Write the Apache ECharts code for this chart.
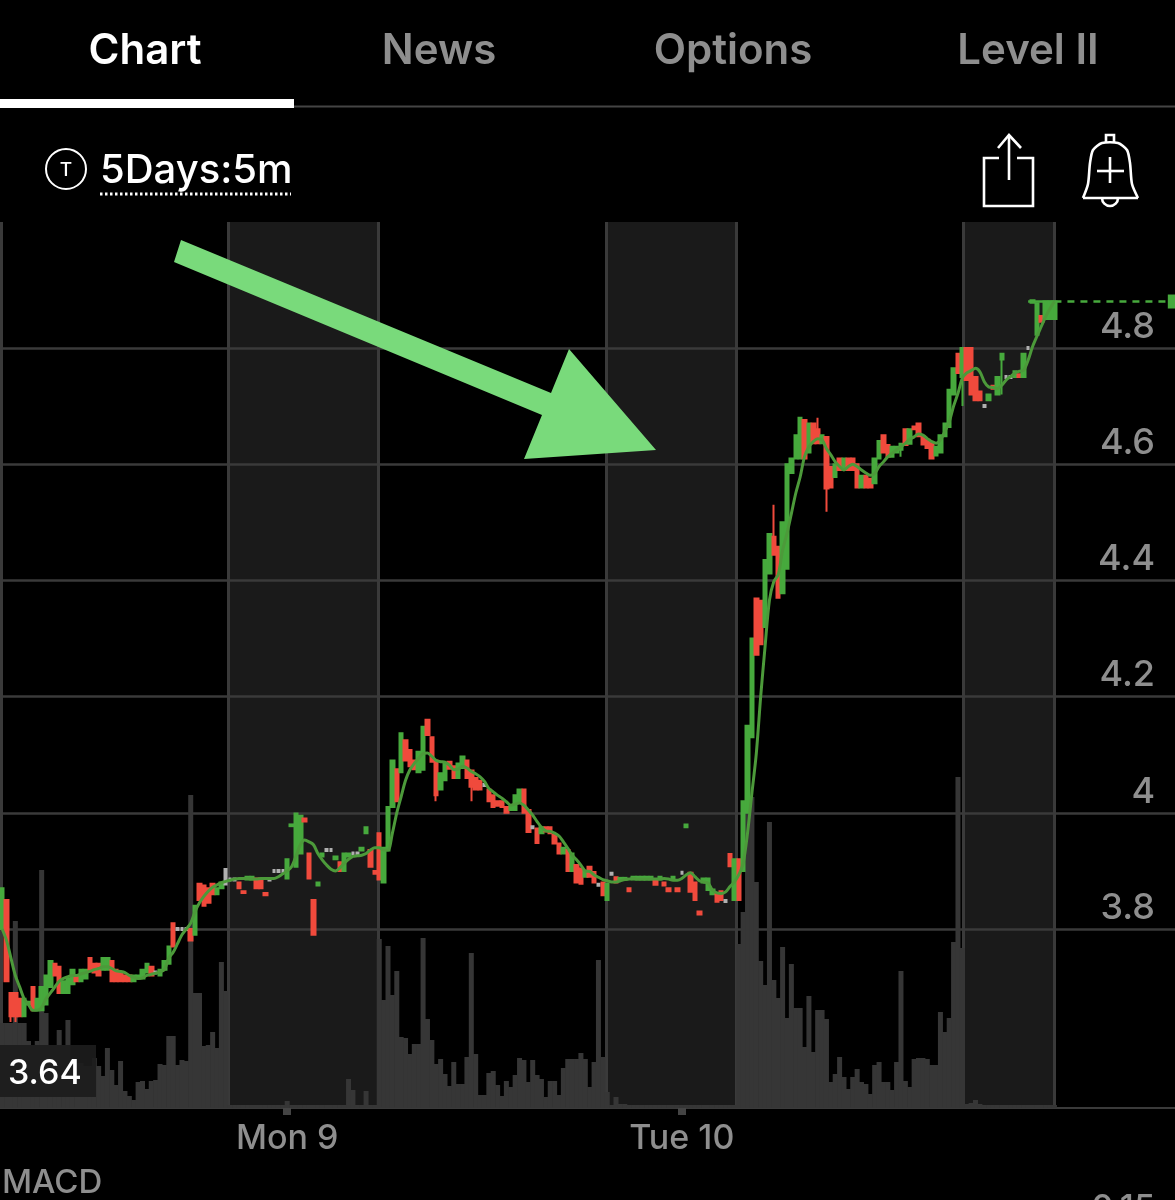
<!DOCTYPE html>
<html>
<head>
<meta charset="utf-8">
<style>
  html,body{margin:0;padding:0;background:#000;}
  #chart{width:1175px;height:1200px;}
</style>
<script src="https://cdn.jsdelivr.net/npm/echarts@6/dist/echarts.min.js"></script>
</head>
<body>
<div id="chart"></div>
<script>
// one entry per 5m bar slot (rows of 10)
var opens = [
  3.80,3.85,3.69,3.69,3.68,3.65,3.67,3.70,3.66,3.66,
  3.67,3.70,3.74,3.735,3.69,3.69,3.705,3.72,3.71,3.715,
  3.75,3.74,3.74,3.73,3.73,3.745,3.73,3.725,3.72,3.72,
  3.71,3.715,3.715,3.725,3.735,3.725,3.72,3.73,3.74,3.81,
  3.80,3.80,3.80,3.80,3.79,3.878,3.875,3.87,3.878,3.86,
  3.87,3.885,3.885,3.885,3.88,3.865,3.885,3.885,3.887,3.887,
  3.862,3.885,3.90,3.90,3.90,3.887,3.977,3.907,3.93,3.99,
  3.93,3.85,3.875,3.925,3.936,3.936,3.92,3.915,3.90,3.925,
  3.93,3.93,3.935,3.965,3.936,3.90,3.965,3.88,3.935,4.01,
  4.075,4.07,4.125,4.108,4.09,4.07,4.074,4.16,4.13,4.09,
  4.04,4.056,4.088,4.08,4.06,4.077,4.09,4.073,4.06,4.055,
  4.048,4.04,4.03,4.02,4.02,4.01,4.005,4.005,4.02,4.04,
  4.005,3.975,3.973,3.965,3.975,3.975,3.962,3.947,3.93,3.936,
  3.90,3.91,3.904,3.89,3.907,3.898,3.876,3.88,3.85,3.895,
  3.889,3.885,3.885,3.87,3.885,3.885,3.885,3.885,3.885,3.885,
  3.885,3.88,3.87,3.885,3.87,3.897,3.975,3.897,3.88,3.83,
  3.88,3.867,3.86,3.86,3.865,3.848,3.929,3.85,3.92,3.90,
  4.00,4.13,4.369,4.365,4.32,4.412,4.475,4.458,4.378,4.42,
  4.585,4.61,4.61,4.676,4.62,4.67,4.66,4.636,4.647,4.595,
  4.578,4.61,4.59,4.61,4.61,4.60,4.56,4.58,4.575,4.567,
  4.61,4.65,4.633,4.613,4.62,4.625,4.66,4.635,4.665,4.67,
  4.648,4.642,4.636,4.615,4.62,4.648,4.664,4.72,4.79,4.75,
  4.80,4.80,4.75,4.725,4.70,4.71,4.735,4.72,4.78,4.75,
  4.75,4.75,4.755,4.75,4.80,4.878,4.823,4.855,4.85,4.85,
  4.85
];
var closes = [
  3.87,3.71,3.65,3.65,3.65,3.68,3.675,3.66,3.68,3.70,
  3.72,3.745,3.72,3.69,3.71,3.715,3.73,3.71,3.73,3.73,
  3.73,3.725,3.72,3.75,3.75,3.71,3.71,3.71,3.71,3.71,
  3.72,3.72,3.73,3.74,3.72,3.725,3.73,3.745,3.77,3.77,
  3.80,3.80,3.80,3.78,3.84,3.85,3.84,3.845,3.86,3.87,
  3.88,3.885,3.885,3.885,3.87,3.862,3.89,3.89,3.87,3.87,
  3.858,3.885,3.90,3.90,3.90,3.92,3.98,3.999,3.995,3.985,
  3.887,3.79,3.88,3.93,3.936,3.936,3.925,3.90,3.93,3.93,
  3.93,3.93,3.94,3.975,3.907,3.895,3.885,3.94,4.01,4.09,
  4.02,4.137,4.09,4.08,4.075,4.105,4.148,4.134,4.088,4.03,
  4.068,4.085,4.076,4.06,4.085,4.097,4.06,4.045,4.04,4.04,
  4.048,4.02,4.01,4.012,4.01,4.00,4.013,4.03,4.04,4.00,
  3.967,3.975,3.948,3.975,3.968,3.965,3.947,3.93,3.94,3.90,
  3.93,3.88,3.878,3.90,3.89,3.88,3.876,3.858,3.878,3.895,
  3.88,3.888,3.888,3.865,3.89,3.89,3.89,3.89,3.89,3.876,
  3.89,3.875,3.865,3.89,3.865,3.897,3.98,3.864,3.85,3.825,
  3.887,3.887,3.868,3.847,3.85,3.848,3.908,3.92,3.85,4.02,
  4.15,4.30,4.272,4.29,4.435,4.48,4.444,4.37,4.50,4.60,
  4.61,4.65,4.68,4.61,4.67,4.636,4.636,4.65,4.558,4.56,
  4.60,4.59,4.61,4.59,4.59,4.56,4.58,4.56,4.56,4.61,
  4.64,4.62,4.613,4.63,4.63,4.635,4.633,4.66,4.66,4.648,
  4.634,4.628,4.61,4.63,4.65,4.67,4.728,4.765,4.757,4.80,
  4.745,4.72,4.71,4.71,4.70,4.72,4.73,4.75,4.79,4.75,
  4.75,4.76,4.75,4.79,4.80,4.882,4.877,4.845,4.88,4.88,
  4.88
];
// only the bars with a wick that sticks out of the body
var wickHighs = {51:3.905,176:4.53,186:4.68};
var wickLows = {2:3.64,3:3.64,51:3.875,99:4.02,107:4.02,188:4.518,205:4.613,219:4.70,228:4.72};
var maLine = [
  3.80,3.78,3.75,3.72,3.70,3.68,3.67,3.66,3.66,3.665,
  3.68,3.69,3.70,3.71,3.715,3.718,3.72,3.72,3.723,3.725,
  3.727,3.73,3.732,3.735,3.735,3.732,3.728,3.727,3.725,3.72,
  3.717,3.715,3.716,3.72,3.722,3.724,3.726,3.73,3.75,3.76,
  3.775,3.79,3.80,3.81,3.83,3.845,3.856,3.865,3.872,3.876,
  3.88,3.882,3.884,3.886,3.887,3.887,3.887,3.886,3.886,3.887,
  3.887,3.887,3.887,3.89,3.895,3.90,3.907,3.925,3.945,3.953,
  3.95,3.945,3.93,3.919,3.91,3.903,3.90,3.905,3.913,3.92,
  3.925,3.926,3.927,3.93,3.936,3.94,3.94,3.936,3.936,3.965,
  4.00,4.028,4.056,4.074,4.085,4.094,4.102,4.103,4.097,4.09,
  4.088,4.087,4.082,4.074,4.075,4.08,4.077,4.071,4.067,4.062,
  4.054,4.042,4.036,4.03,4.025,4.019,4.013,4.015,4.017,4.013,
  4.005,3.996,3.985,3.975,3.969,3.968,3.965,3.96,3.95,3.939,
  3.927,3.919,3.91,3.90,3.899,3.893,3.889,3.885,3.883,3.881,
  3.881,3.883,3.885,3.886,3.887,3.886,3.886,3.886,3.886,3.886,
  3.886,3.887,3.886,3.884,3.884,3.887,3.893,3.897,3.89,3.883,
  3.881,3.879,3.867,3.862,3.861,3.864,3.873,3.881,3.893,3.913,
  3.965,4.034,4.102,4.20,4.286,4.366,4.398,4.41,4.452,4.481,
  4.515,4.55,4.578,4.613,4.63,4.639,4.644,4.642,4.627,4.616,
  4.604,4.596,4.59,4.596,4.60,4.596,4.59,4.585,4.581,4.584,
  4.596,4.604,4.613,4.619,4.625,4.63,4.636,4.643,4.647,4.652,
  4.65,4.644,4.639,4.636,4.642,4.656,4.673,4.70,4.722,4.748,
  4.757,4.761,4.765,4.759,4.742,4.733,4.732,4.73,4.736,4.745,
  4.751,4.757,4.76,4.762,4.779,4.802,4.82,4.837,4.854,4.868,
  4.88
];
var volumes = [
  85,85,85,187,85,85,67,63,67,238,
  95,63,63,78,63,88,45,45,45,42,
  42,50,42,32,60,38,23,47,17,12,
  8,26,27,19,27,28,44,43,72,72,
  43,48,47,313,115,115,62,63,76,60,
  146,117,3,3,3,3,3,3,3,3,
  3,3,3,3,3,7,3,3,3,3,
  3,3,3,3,3,3,3,3,3,29,
  18,3,3,17,3,3,169,108,162,113,
  137,71,70,54,64,64,170,89,68,44,
  49,34,22,46,24,24,51,155,54,13,
  13,35,37,23,12,27,21,33,50,48,
  26,48,33,29,11,27,27,13,40,49,
  49,49,55,49,21,46,148,51,16,3,
  11,4,4,3,3,3,3,3,3,3,
  3,3,3,3,3,3,3,3,3,3,
  3,3,3,3,3,3,3,3,164,196,
  311,311,226,147,123,286,128,110,161,90,
  144,100,100,61,112,56,98,98,89,26,
  34,51,31,19,31,39,26,24,14,43,
  46,26,26,18,46,137,27,21,49,50,
  50,49,43,43,96,76,90,166,331,160,
  4,5,8,4,3,3,3,3,3,3,
  3,3,3,3,3,3,3,3,3,3,
  3
];
var slotCount = 268;
var dayLabels = {65:'Mon 9',155:'Tue 10'};
var sessionBands = [[52,86.3],[138.2,167.95],[219.7,240.4]];
var sessionEdges = [0.25,52,86.3,138.2,167.95,219.7,240.4];
var lastPrice = 4.88;
var priceTicks = {min:3.6,max:5,interval:0.2};

var gray = '#8e8e8e';
var upColor = '#47a93d';
var downColor = '#f04a3c';
var lineColor = '#3a3a3a';
var font = 'Inter';

var categories = [];
for(var i=0;i<slotCount;i++){
  categories.push(dayLabels[i]||'');
}
var candles = opens.map(function(o,i){
  var c = closes[i];
  var low = wickLows[i]!==undefined ? wickLows[i] : Math.min(o,c);
  var high = wickHighs[i]!==undefined ? wickHighs[i] : Math.max(o,c);
  var item = {value:[o,c,low,high]};
  // flat bars are drawn as a thick gray dash
  if(o===c){
    item.itemStyle = {borderWidth:4,borderColorDoji:'#b0b0b0'};
  }
  return item;
});
var hasLabel = function(index,value){
  return value!=='' && value!==undefined;
};
var tabText = function(text,x,fill){
  return {type:'text',x:x,y:51,z:20,style:{text:text,fill:fill,font:'600 42px '+font,align:'center',verticalAlign:'middle'}};
};
var whiteLine = {stroke:'#fff',lineWidth:2.6,fill:null};

var mapChart = echarts.init(document.getElementById('chart'));
mapChart.setOption({
  animation:false,
  backgroundColor:'#000',
  grid:[
    {left:0,right:0,top:222,height:886}, //volume and sessions
    {left:0,right:0,top:231.8,height:813.4} //price
  ],
  xAxis:[
    {
      type:'category',gridIndex:0,data:categories,boundaryGap:true,
      axisLine:{show:true,lineStyle:{color:lineColor,width:2}},
      axisTick:{show:true,alignWithLabel:true,interval:hasLabel,length:7,lineStyle:{color:'#444',width:8}},
      axisLabel:{show:true,interval:hasLabel,color:gray,fontFamily:font,fontSize:34,fontWeight:500,margin:14},
      splitLine:{show:false}
    },
    {type:'category',gridIndex:1,data:categories,boundaryGap:true,show:false},
    {type:'value',gridIndex:0,min:0,max:slotCount,show:false,splitLine:{show:false}}
  ],
  yAxis:[
    {type:'value',gridIndex:0,min:0,max:886,show:false,splitLine:{show:false}},
    {
      type:'value',gridIndex:1,position:'right',z:2,
      min:priceTicks.min,max:priceTicks.max,interval:priceTicks.interval,
      axisLine:{show:false},axisTick:{show:false},
      splitLine:{show:true,showMinLine:false,showMaxLine:false,lineStyle:{color:lineColor,width:2.5}},
      axisLabel:{
        show:true,inside:true,margin:20,color:gray,fontFamily:font,fontSize:36,fontWeight:500,
        verticalAlign:'bottom',padding:[0,0,3,0],showMinLabel:false,showMaxLabel:false
      }
    }
  ],
  series:[
    {
      name:'sessions',type:'line',xAxisIndex:2,yAxisIndex:0,data:[[0,0]],symbol:'none',silent:true,z:1,
      markArea:{
        silent:true,z:1,
        itemStyle:{color:'#1a1a1a'},
        data:sessionBands.map(function(b){return [{xAxis:b[0]},{xAxis:b[1]}];})
      },
      markLine:{
        silent:true,z:2,symbol:'none',label:{show:false},
        lineStyle:{color:lineColor,width:3,type:'solid'},
        data:sessionEdges.map(function(x){return {xAxis:x};})
      }
    },
    {
      name:'volume',type:'bar',xAxisIndex:0,yAxisIndex:0,data:volumes,z:2,
      barWidth:5,itemStyle:{color:'#363636'},silent:true
    },
    {
      name:'price',type:'candlestick',xAxisIndex:1,yAxisIndex:1,data:candles,z:5,
      barWidth:4,silent:true,
      itemStyle:{color:upColor,color0:downColor,borderColor:upColor,borderColor0:downColor,borderWidth:2},
      markLine:{
        silent:true,z:5,symbol:['none','rect'],symbolSize:[14,10],label:{show:false},
        data:[
          [{coord:[234,lastPrice],symbol:'none',lineStyle:{color:upColor,width:2.5,type:'solid'}},{coord:[240,lastPrice],symbol:'none'}],
          [{coord:[240,lastPrice],lineStyle:{color:upColor,width:2.5,type:[7,6]}},{coord:[267,lastPrice]}]
        ]
      }
    },
    {
      name:'ma',type:'line',xAxisIndex:1,yAxisIndex:1,data:maLine,z:6,silent:true,
      symbol:'none',smooth:0.3,lineStyle:{color:'#4c9a3a',width:3}
    }
  ],
  graphic:{elements:[
    // header tabs
    tabText('Chart',145,'#fff'),
    tabText('News',439,gray),
    tabText('Options',733,gray),
    tabText('Level II',1028,gray),
    {type:'rect',z:20,shape:{x:0,y:99,width:294,height:9},style:{fill:'#fff'}},
    {type:'rect',z:20,shape:{x:294,y:105.5,width:881,height:2},style:{fill:'#444'}},
    // ticker row
    {type:'circle',z:20,shape:{cx:66,cy:169,r:20},style:{stroke:'#fff',lineWidth:2,fill:null}},
    {type:'text',x:66,y:170,z:20,style:{text:'T',fill:'#fff',font:'500 19px '+font,align:'center',verticalAlign:'middle'}},
    {type:'text',x:100,y:171,z:20,style:{text:'5Days:5m',fill:'#fff',font:'500 40px '+font,align:'left',verticalAlign:'middle'}},
    {type:'line',z:20,shape:{x1:100,y1:194,x2:291,y2:194},style:{stroke:'#fff',lineWidth:3,lineDash:[2.5,2.5]}},
    // share icon
    {type:'polyline',z:20,shape:{points:[[999,158],[984,158],[984,206],[1033,206],[1033,158],[1017,158]]},style:whiteLine},
    {type:'polyline',z:20,shape:{points:[[1009,180],[1009,135]]},style:whiteLine},
    {type:'polyline',z:20,shape:{points:[[998,148],[1009,135],[1021,148]]},style:whiteLine},
    // bell icon
    {type:'polyline',z:20,shape:{smooth:0.25,points:[[1083,198],[1088,184],[1090,163],[1093,150],[1102,143],[1118,143],[1127,150],[1130,163],[1132,184],[1138,198]]},style:whiteLine},
    {type:'polyline',z:20,shape:{points:[[1083,198],[1138,198]]},style:whiteLine},
    {type:'polyline',z:20,shape:{points:[[1106,142],[1106,135],[1114,135],[1114,142]]},style:whiteLine},
    {type:'arc',z:20,shape:{cx:1110,cy:198,r:8,startAngle:0,endAngle:Math.PI},style:whiteLine},
    {type:'polyline',z:20,shape:{points:[[1097,171],[1124,171]]},style:whiteLine},
    {type:'polyline',z:20,shape:{points:[[1110,157],[1110,183]]},style:whiteLine},
    // annotation arrow
    {type:'polygon',z:30,shape:{points:[[181,240],[551,393],[569,349],[656,450],[524,459],[542,415],[174,262]]},style:{fill:'#79da7b'}},
    // min price tag
    {type:'rect',z:30,shape:{x:0,y:1045,width:96,height:52},style:{fill:'#1c1c1c',opacity:0.92}},
    {type:'text',x:8,y:1074,z:31,style:{text:'3.64',fill:'#fff',font:'500 34px '+font,align:'left',verticalAlign:'middle'}},
    // next panel, cut off by the page edge
    {type:'text',x:2,y:1183,z:20,style:{text:'MACD',fill:gray,font:'500 33px '+font,align:'left',verticalAlign:'middle'}},
    {type:'text',x:1155,y:1209,z:20,style:{text:'0.15',fill:gray,font:'500 34px '+font,align:'right',verticalAlign:'middle'}}
  ]}
});
</script>
</body>
</html>
